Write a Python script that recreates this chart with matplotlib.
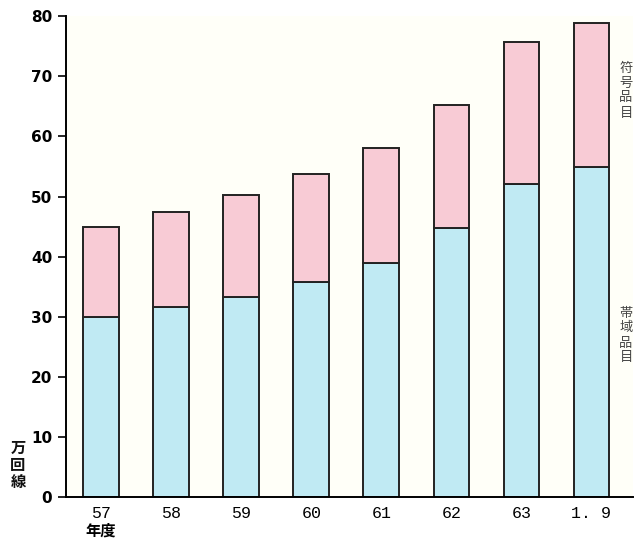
import matplotlib.pyplot as plt
import numpy as np

plt.rcParams['font.family'] = ['Noto Sans CJK JP', 'DejaVu Sans']

years = ['57', '58', '59', '60', '61', '62', '63', '1. 9']
band = [30.0, 31.7, 33.3, 35.8, 38.9, 44.7, 52.1, 54.9]   # 帯域品目
total = [44.9, 47.4, 50.2, 53.8, 58.0, 65.3, 75.7, 78.8]
code = [t - b for t, b in zip(total, band)]                 # 符号品目

pink = '#f8cbd5'
cyan = '#c0eaf3'
bg = '#fffff8'

fig = plt.figure(figsize=(6.36, 5.41), dpi=100, facecolor='white')
ax = fig.add_axes([0.104, 0.081, 0.891, 0.889])
ax.set_facecolor(bg)

x = np.arange(len(years))
ax.bar(x, band, width=0.51, color=cyan, edgecolor='#222222', linewidth=1.4)
ax.bar(x, code, width=0.51, bottom=band, color=pink, edgecolor='#222222', linewidth=1.4)

ax.set_xlim(-0.5, 7.59)
ax.set_ylim(0, 80)
ax.set_yticks(range(0, 81, 10))
ax.set_xticks(x)
ax.set_xticklabels(years, fontsize=12, family=['Liberation Mono', 'DejaVu Sans Mono'])
ax.tick_params(axis='x', length=0, pad=6)
ax.tick_params(axis='y', length=6, width=1.2, direction='out', pad=4)
for lab in ax.get_yticklabels():
    lab.set_fontsize(11)
    lab.set_fontweight('bold')
    lab.set_family(['DejaVu Sans'])


def vtext(xp, yp, chars, size, color, weight='normal', step=14):
    # stack characters one under another (pixel coords, centre of first char)
    for i, ch in enumerate(chars):
        fig.text(xp / 636, 1 - (yp + i * step) / 541, ch, fontsize=size, color=color,
                 fontweight=weight, ha='center', va='center')


ax.spines['top'].set_visible(False)
ax.spines['right'].set_visible(False)
ax.spines['left'].set_linewidth(1.4)
ax.spines['bottom'].set_linewidth(1.4)

vtext(18, 448, '万回線', 11, '#111111', 'bold', step=17)
fig.text(101 / 636, 1 - 531 / 541, '年度', fontsize=11, fontweight='bold',
         ha='center', va='center')
vtext(626, 68, '符号品目', 9.5, '#444444', step=15)
vtext(626, 313, '帯域品目', 9.5, '#444444', step=15)

fig.savefig('out.png', dpi=100)
